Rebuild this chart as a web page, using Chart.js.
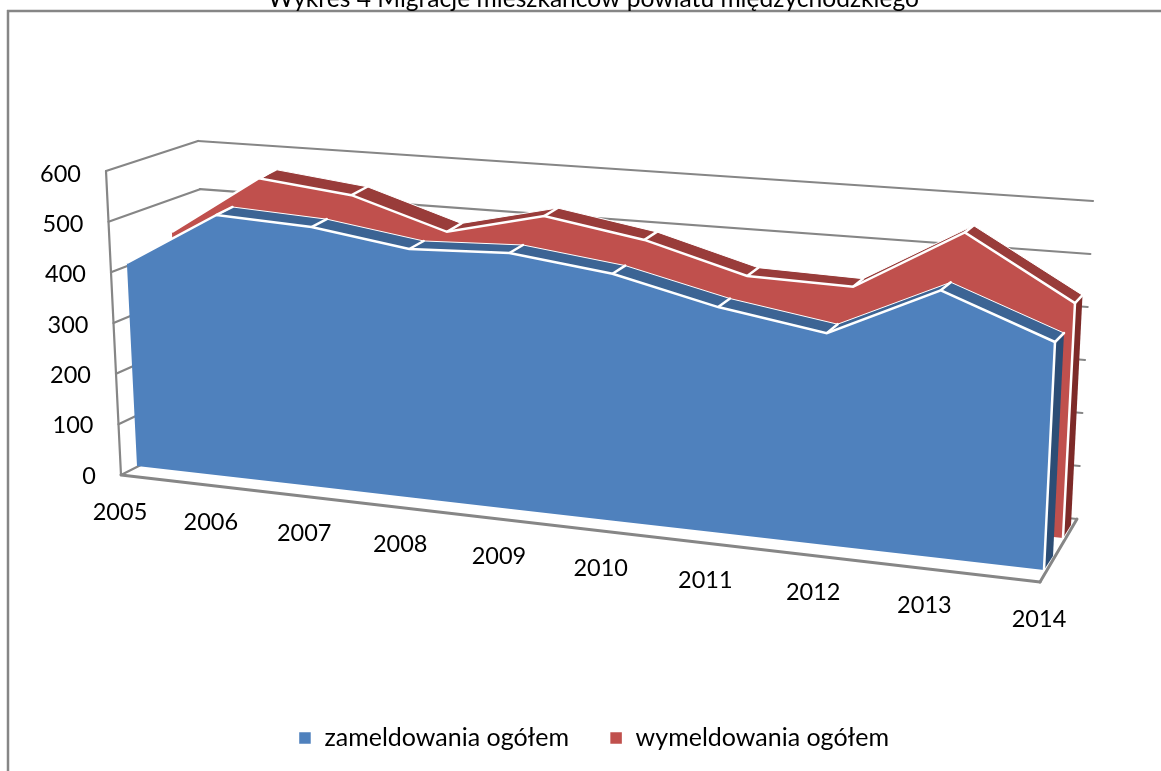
<!DOCTYPE html>
<html><head><meta charset="utf-8">
<style>html,body{margin:0;padding:0;background:#fff}canvas{display:block}</style>
<script src="https://cdn.jsdelivr.net/npm/chart.js@4"></script>
</head><body><canvas id="c" width="1161" height="771"></canvas>
<script>
const categories = ['2005','2006','2007','2008','2009','2010','2011','2012','2013','2014'];
const zameldowania = [405,514,504,476,483,459,413,382,475,400];
const wymeldowania = [432,555,534,475,520,488,434,429,546,431];
const yTicks = [0,100,200,300,400,500,600];
const titleText = 'Wykres 4 Migracje mieszkańców powiatu międzychodzkiego';
const seriesNames = ['zameldowania ogółem','wymeldowania ogółem'];

// perspective "camera": the corners of each depth plane (value 0 and value 600, first and last year)
const Q = 1.14;
const planes = {
  blueFront:{bl:[137,466],br:[1044,570],tl:[122,165],tr:[1060.5,228]},
  blueBack: {bl:[153,458],br:[1053,556],tl:[139,157],tr:[1069.5,221.5]},
  redFront: {bl:[182,443],br:[1063,538],tl:[168,150],tr:[1079.7,211]},
  redBack:  {bl:[198,435],br:[1071,525],tl:[186,141],tr:[1087,205]}
};
const wall = {
  frontBottom:[121,475], frontTop:[106,171],
  backBottom:[210,430], backTop:[198,141],
  rightBottom:[1077,519], rightTop:[1093,201],
  floorFrontRight:[1040,582]
};
const GRID='#868686';
const lerp=(a,b,f)=>[a[0]+(b[0]-a[0])*f,a[1]+(b[1]-a[1])*f];
const persp=t=>t/(t+Q*(1-t));
function project(name,t,f){
  const p=planes[name], s=persp(t);
  return lerp(lerp(p.bl,p.br,s),lerp(p.tl,p.tr,s),f);
}
function seg(ctx,a,b,color,w){ctx.strokeStyle=color;ctx.lineWidth=w;ctx.beginPath();ctx.moveTo(a[0],a[1]);ctx.lineTo(b[0],b[1]);ctx.stroke();}
function poly(ctx,pts,color){ctx.fillStyle=color;ctx.beginPath();pts.forEach((p,i)=>i?ctx.lineTo(p[0],p[1]):ctx.moveTo(p[0],p[1]));ctx.closePath();ctx.fill();}

const perspectivePlugin={
  id:'perspective',
  afterDatasetsUpdate(chart){
    const xs=chart.scales.x, ys=chart.scales.y;
    chart.data.datasets.forEach((d,i)=>{
      chart.getDatasetMeta(i).data.forEach(pt=>{
        const t=(pt.x-xs.left)/xs.width, f=ys.getValueForPixel(pt.y)/ys.max;
        const q=project(d.plane,t,f); pt.x=q[0]; pt.y=q[1];
      });
    });
  },
  beforeDraw(chart){
    const {ctx,width,height}=chart;
    ctx.save();
    seg(ctx,[7,11],[width,11],GRID,2.5);
    seg(ctx,[8,10],[8,height],GRID,2.5);
    ctx.restore();
    const xs=chart.scales.x, ys=chart.scales.y, n=categories.length;
    xs._computeLabelArea=()=>undefined; ys._computeLabelArea=()=>undefined;
    xs.getLabelItems(chart.chartArea).forEach((it,i)=>{
      const s=persp(i/(n-1)), p=lerp(wall.frontBottom,wall.floorFrontRight,s);
      it.textOffset=0;
      Object.assign(it.options,{translation:[p[0]-1,p[1]+37],textAlign:'center',textBaseline:'middle'});
    });
    ys.getLabelItems(chart.chartArea).forEach(it=>{
      const f=Number(it.label)/ys.max, p=lerp(wall.frontBottom,wall.frontTop,f);
      it.textOffset=0;
      Object.assign(it.options,{translation:[p[0]-25,p[1]+1+2*f],textAlign:'right',textBaseline:'middle'});
    });
  },
  beforeDatasetsDraw(chart){
    const ctx=chart.ctx, ys=chart.scales.y;
    ctx.save();
    ctx.lineCap='round';
    yTicks.forEach(v=>{
      const f=v/ys.max;
      const a=lerp(wall.frontBottom,wall.frontTop,f), b=lerp(wall.backBottom,wall.backTop,f), c=lerp(wall.rightBottom,wall.rightTop,f);
      seg(ctx,a,b,GRID,2.2); seg(ctx,b,c,GRID,2.2);
    });
    seg(ctx,wall.frontBottom,wall.frontTop,GRID,2.2);
    seg(ctx,wall.frontBottom,wall.floorFrontRight,GRID,3);
    seg(ctx,wall.floorFrontRight,wall.rightBottom,GRID,3);
    ctx.restore();
  },
  // the library gives the projected points; the faces between them are filled here
  beforeDatasetDraw(chart,args){
    const d=chart.data.datasets[args.index], ctx=chart.ctx;
    const pts=args.meta.data.map(p=>[p.x,p.y]);
    let lower;
    if(d.ribbonOf!==undefined) lower=chart.getDatasetMeta(d.ribbonOf).data.map(p=>[p.x,p.y]);
    else lower=pts.map((_,i)=>project(d.plane,i/(pts.length-1),0));
    ctx.save();
    poly(ctx,pts.concat(lower.reverse()),d.faceColor);
    ctx.restore();
  },
  afterDatasetDraw(chart,args){
    const d=chart.data.datasets[args.index], ctx=chart.ctx, ys=chart.scales.y;
    const last=args.meta.data.length-1;
    ctx.save();
    ctx.lineCap='round';
    if(d.ribbonOf!==undefined){
      const front=chart.data.datasets[d.ribbonOf];
      const f=d.data[last]/ys.max;
      poly(ctx,[project(front.plane,1,0),project(front.plane,1,f),project(d.plane,1,f),project(d.plane,1,0)],d.sideColor);
      const fm=chart.getDatasetMeta(d.ribbonOf).data;
      args.meta.data.forEach((p,i)=>{ seg(ctx,[p.x,p.y],[fm[i].x,fm[i].y],'#ffffff',2.5); });
    } else {
      const f=d.data[last]/ys.max;
      seg(ctx,project(d.plane,1,0),project(d.plane,1,f),'#ffffff',2.5);
    }
    ctx.restore();
  }
};

new Chart(document.getElementById('c'),{
  type:'line',
  data:{labels:categories,datasets:[
    {label:seriesNames[0],data:zameldowania,plane:'blueFront',order:0,faceColor:'#4F81BD',backgroundColor:'#4F81BD',borderColor:'#ffffff',borderWidth:2.5},
    {label:seriesNames[1],data:wymeldowania,plane:'redFront',order:2,faceColor:'#C0504D',backgroundColor:'#C0504D',borderColor:'#ffffff',borderWidth:2.5},
    {label:seriesNames[0],data:zameldowania,plane:'blueBack',order:1,ribbonOf:0,faceColor:'#3C6494',sideColor:'#2C4D75',backgroundColor:'#3C6494',borderColor:'#ffffff',borderWidth:1},
    {label:seriesNames[1],data:wymeldowania,plane:'redBack',order:3,ribbonOf:1,faceColor:'#993C3A',sideColor:'#7D2A28',backgroundColor:'#993C3A',borderColor:'#ffffff',borderWidth:1}
  ].map(d=>Object.assign(d,{fill:false,pointRadius:0,tension:0,clip:false}))},
  options:{
    responsive:false,animation:false,events:[],
    layout:{padding:{left:26,right:0,top:0,bottom:10.5}},
    plugins:{
      title:{display:true,text:titleText,color:'#000',font:{family:'Lato',size:24.6,weight:'normal'},padding:{top:-16,bottom:100}},
      legend:{position:'bottom',labels:{
        filter:(item)=>item.datasetIndex<2,
        boxWidth:14,boxHeight:14,padding:40,color:'#000',font:{family:'Lato',size:25}
      }},
      tooltip:{enabled:false}
    },
    scales:{
      x:{grid:{display:false},border:{display:false},ticks:{autoSkip:false,maxRotation:0,minRotation:0,color:'#000',font:{family:'Lato',size:23.5}}},
      y:{min:0,max:600,grid:{display:false},border:{display:false},ticks:{stepSize:100,color:'#000',font:{family:'Lato',size:23.5}}}
    }
  },
  plugins:[perspectivePlugin]
});
</script></body></html>
